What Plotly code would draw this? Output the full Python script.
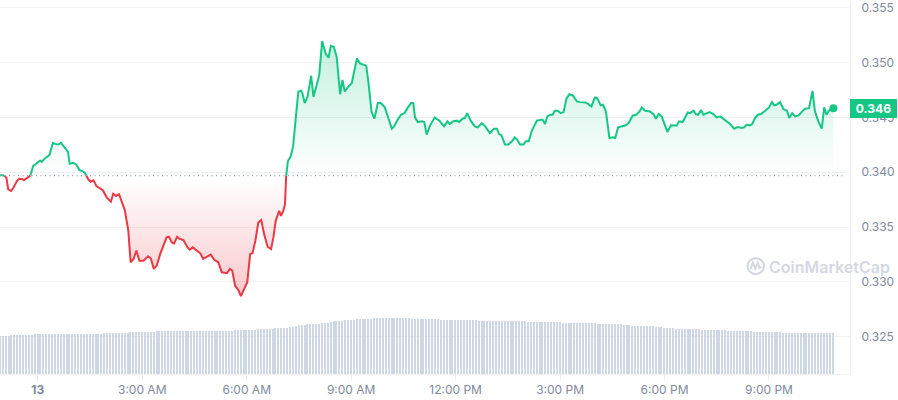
import pandas as pd
import plotly.graph_objects as go

DAY = pd.Timestamp("2023-06-13")

# price path: minutes from midnight of the 13th, price in USD
minutes = [
    -65, -58, -54, -51, -46, -42, -36, -32, -26, -24,
    -19, -13, -8, -3, 4, 7, 12, 20, 26, 30,
    35, 40, 47, 52, 55, 61, 66, 72, 77, 81,
    87, 91, 96, 101, 107, 112, 119, 126, 130, 135,
    140, 150, 156, 160, 165, 170, 175, 182, 190, 195,
    200, 205, 211, 216, 222, 226, 231, 235, 240, 245,
    251, 258, 262, 267, 274, 280, 285, 291, 298, 304,
    311, 317, 326, 331, 335, 340, 346, 350, 356, 361,
    366, 370, 375, 380, 385, 390, 396, 402, 406, 410,
    416, 419, 423, 426, 428, 431, 436, 440, 444, 449,
    454, 456, 460, 465, 471, 475, 481, 485, 490, 496,
    501, 505, 510, 515, 521, 525, 529, 535, 541, 545,
    550, 555, 561, 566, 570, 575, 580, 586, 591, 598,
    604, 610, 614, 620, 626, 632, 637, 643, 647, 650,
    655, 662, 666, 670, 676, 684, 692, 700, 706, 710,
    716, 722, 726, 732, 736, 740, 746, 753, 758, 765,
    771, 779, 786, 791, 795, 799, 805, 811, 817, 822,
    826, 831, 837, 841, 846, 851, 855, 860, 867, 870,
    874, 878, 883, 887, 891, 896, 901, 906, 911, 916,
    922, 929, 934, 943, 949, 954, 960, 964, 970, 974,
    979, 985, 991, 995, 1000, 1006, 1012, 1018, 1025, 1031,
    1037, 1041, 1046, 1055, 1061, 1065, 1070, 1075, 1081, 1085,
    1091, 1097, 1101, 1105, 1111, 1115, 1120, 1124, 1130, 1134,
    1138, 1143, 1147, 1153, 1158, 1164, 1170, 1176, 1181, 1187,
    1193, 1200, 1206, 1213, 1217, 1222, 1227, 1231, 1236, 1241,
    1246, 1250, 1256, 1260, 1265, 1269, 1273, 1279, 1285, 1291,
    1295, 1300, 1305, 1311, 1316, 1322, 1329, 1335, 1339, 1345,
    1351, 1355, 1359, 1363, 1371,
]
prices = [
    0.33972, 0.33972, 0.33950, 0.33845, 0.33829, 0.33859, 0.33920, 0.33941, 0.33936, 0.33927,
    0.33945, 0.33966, 0.34056, 0.34077, 0.34108, 0.34095, 0.34126, 0.34156, 0.34268, 0.34259,
    0.34253, 0.34268, 0.34222, 0.34186, 0.34077, 0.34086, 0.34072, 0.34020, 0.34011, 0.33996,
    0.33936, 0.33914, 0.33927, 0.33875, 0.33854, 0.33836, 0.33769, 0.33732, 0.33805, 0.33784,
    0.33800, 0.33654, 0.33467, 0.33179, 0.33210, 0.33285, 0.33194, 0.33194, 0.33233, 0.33210,
    0.33119, 0.33149, 0.33255, 0.33330, 0.33406, 0.33412, 0.33360, 0.33351, 0.33412, 0.33391,
    0.33382, 0.33315, 0.33294, 0.33315, 0.33285, 0.33261, 0.33210, 0.33231, 0.33249, 0.33201,
    0.33179, 0.33088, 0.33079, 0.33119, 0.33104, 0.32967, 0.32922, 0.32870, 0.32937, 0.32997,
    0.33255, 0.33261, 0.33376, 0.33542, 0.33564, 0.33437, 0.33321, 0.33300, 0.33406, 0.33557,
    0.33648, 0.33603, 0.33648, 0.33709, 0.33966, 0.34102, 0.34147, 0.34238, 0.34465, 0.34737,
    0.34743, 0.34721, 0.34631, 0.34691, 0.34882, 0.34689, 0.34803, 0.34888, 0.35197, 0.35084,
    0.35045, 0.35154, 0.35145, 0.35054, 0.34712, 0.34843, 0.34737, 0.34782, 0.34812, 0.34918,
    0.35039, 0.34994, 0.34985, 0.34973, 0.34812, 0.34555, 0.34489, 0.34631, 0.34631, 0.34592,
    0.34495, 0.34398, 0.34419, 0.34480, 0.34525, 0.34540, 0.34585, 0.34631, 0.34631, 0.34501,
    0.34458, 0.34465, 0.34458, 0.34344, 0.34428, 0.34501, 0.34471, 0.34419, 0.34465, 0.34440,
    0.34465, 0.34471, 0.34458, 0.34489, 0.34495, 0.34540, 0.34471, 0.34419, 0.34410, 0.34449,
    0.34419, 0.34358, 0.34398, 0.34398, 0.34349, 0.34338, 0.34253, 0.34253, 0.34283, 0.34319,
    0.34299, 0.34253, 0.34253, 0.34283, 0.34283, 0.34374, 0.34419, 0.34471, 0.34480, 0.34480,
    0.34440, 0.34510, 0.34525, 0.34525, 0.34562, 0.34562, 0.34540, 0.34549, 0.34671, 0.34712,
    0.34701, 0.34646, 0.34640, 0.34637, 0.34622, 0.34601, 0.34682, 0.34676, 0.34610, 0.34616,
    0.34555, 0.34313, 0.34319, 0.34313, 0.34410, 0.34419, 0.34426, 0.34449, 0.34516, 0.34525,
    0.34555, 0.34592, 0.34562, 0.34555, 0.34531, 0.34489, 0.34531, 0.34510, 0.34435, 0.34368,
    0.34428, 0.34426, 0.34426, 0.34465, 0.34458, 0.34495, 0.34546, 0.34540, 0.34562, 0.34531,
    0.34525, 0.34567, 0.34525, 0.34540, 0.34549, 0.34531, 0.34501, 0.34510, 0.34489, 0.34471,
    0.34440, 0.34398, 0.34413, 0.34404, 0.34410, 0.34435, 0.34428, 0.34440, 0.34495, 0.34525,
    0.34531, 0.34546, 0.34571, 0.34592, 0.34640, 0.34610, 0.34616, 0.34640, 0.34576, 0.34562,
    0.34495, 0.34540, 0.34510, 0.34519, 0.34549, 0.34580, 0.34585, 0.34743, 0.34562, 0.34465,
    0.34398, 0.34592, 0.34525, 0.34562, 0.34585,
]
open_price = 0.3397
last_label = "0.346"

# volume bars (5-minute buckets starting at vol_start_min), in millions
vol_start_min = -65
vol_step_min = 5
volumes = [
    190, 190, 190, 190, 195, 195, 195, 195, 195, 195, 195, 195,
    200, 200, 200, 200, 200, 200, 200, 200, 200, 200, 200, 200,
    200, 200, 200, 200, 200, 200, 200, 200, 200, 200, 200, 200,
    205, 205, 205, 205, 205, 205, 205, 205, 205, 210, 210, 210,
    210, 210, 210, 210, 210, 210, 215, 215, 215, 215, 215, 215,
    215, 215, 215, 215, 215, 215, 215, 215, 215, 215, 215, 215,
    215, 215, 215, 215, 215, 215, 215, 215, 215, 220, 220, 220,
    220, 220, 220, 220, 220, 225, 225, 225, 225, 225, 225, 230,
    230, 230, 230, 230, 235, 235, 240, 245, 245, 245, 250, 250,
    250, 250, 250, 255, 255, 255, 260, 265, 265, 265, 265, 270,
    270, 270, 270, 275, 275, 275, 275, 275, 275, 280, 280, 280,
    280, 280, 280, 280, 280, 280, 280, 280, 280, 280, 275, 275,
    275, 275, 275, 275, 275, 275, 275, 275, 270, 270, 270, 270,
    270, 270, 270, 270, 270, 270, 270, 270, 270, 265, 265, 265,
    265, 265, 265, 265, 265, 265, 265, 265, 265, 265, 265, 265,
    265, 265, 260, 260, 260, 260, 260, 260, 260, 260, 260, 260,
    260, 260, 255, 255, 255, 255, 255, 255, 255, 255, 255, 255,
    255, 255, 250, 250, 250, 250, 250, 250, 250, 250, 250, 245,
    245, 245, 240, 240, 240, 240, 240, 240, 240, 240, 235, 235,
    235, 230, 230, 230, 230, 225, 225, 225, 225, 225, 225, 225,
    225, 225, 220, 220, 220, 220, 220, 220, 220, 220, 220, 215,
    215, 215, 215, 215, 215, 215, 215, 215, 210, 210, 210, 210,
    210, 210, 210, 210, 210, 210, 205, 205, 205, 205, 205, 205,
    205, 205, 205, 205, 205, 205, 205, 205, 205, 205, 205, 205,
]

tick_minutes = [0, 180, 360, 540, 720, 900, 1080, 1260]
tick_text = ["<b>13</b>", "3:00 AM", "6:00 AM", "9:00 AM", "12:00 PM", "3:00 PM", "6:00 PM", "9:00 PM"]
y_ticks = [0.325, 0.330, 0.335, 0.340, 0.345, 0.350, 0.355]

GREEN = "#16c784"
RED = "#ea3943"
GRID = "#eff2f5"
LABEL = "#808a9d"
FONT = "Inter"

assert len(minutes) == len(prices)


def ts(m):
    return DAY + pd.to_timedelta(m, unit="m")


# insert the crossings with the opening price so colours switch exactly there
t_aug, p_aug = [minutes[0]], [prices[0]]
for i in range(1, len(prices)):
    t0, p0, t1, p1 = minutes[i - 1], prices[i - 1], minutes[i], prices[i]
    if (p0 - open_price) * (p1 - open_price) < 0:
        tc = t0 + (open_price - p0) / (p1 - p0) * (t1 - t0)
        t_aug.append(tc)
        p_aug.append(open_price)
    t_aug.append(t1)
    p_aug.append(p1)

x_aug = [ts(m) for m in t_aug]
up_line = [p if p >= open_price else None for p in p_aug]
dn_line = [p if p <= open_price else None for p in p_aug]
up_fill = [max(p, open_price) for p in p_aug]
dn_fill = [min(p, open_price) for p in p_aug]
base = [open_price] * len(p_aug)

vol_x = [ts(vol_start_min + vol_step_min * i) for i in range(len(volumes))]

fig = go.Figure()

fig.add_trace(go.Bar(
    x=vol_x, y=volumes, yaxis="y2",
    marker=dict(color="#cfd6e4", line=dict(width=0)),
    width=vol_step_min * 60 * 1000 * 0.5,
    hoverinfo="skip", showlegend=False,
))

fig.add_trace(go.Scatter(x=x_aug, y=base, mode="lines", line=dict(width=0),
                         hoverinfo="skip", showlegend=False))
fig.add_trace(go.Scatter(
    x=x_aug, y=up_fill, mode="lines", line=dict(width=0), fill="tonexty",
    fillgradient=dict(type="vertical",
                      colorscale=[[0, "rgba(22,199,132,0)"], [1, "rgba(22,199,132,0.26)"]],
                      start=open_price, stop=max(prices)),
    hoverinfo="skip", showlegend=False,
))
fig.add_trace(go.Scatter(x=x_aug, y=base, mode="lines", line=dict(width=0),
                         hoverinfo="skip", showlegend=False))
fig.add_trace(go.Scatter(
    x=x_aug, y=dn_fill, mode="lines", line=dict(width=0), fill="tonexty",
    fillgradient=dict(type="vertical",
                      colorscale=[[0, "rgba(234,57,67,0.28)"], [1, "rgba(234,57,67,0)"]],
                      start=min(prices), stop=open_price),
    hoverinfo="skip", showlegend=False,
))

fig.add_trace(go.Scatter(x=x_aug, y=dn_line, mode="lines",
                         line=dict(color=RED, width=2), connectgaps=False,
                         hoverinfo="skip", showlegend=False))
fig.add_trace(go.Scatter(x=x_aug, y=up_line, mode="lines",
                         line=dict(color=GREEN, width=2), connectgaps=False,
                         hoverinfo="skip", showlegend=False))
fig.add_trace(go.Scatter(x=[ts(minutes[-1])], y=[prices[-1]], mode="markers",
                         marker=dict(color=GREEN, size=8),
                         hoverinfo="skip", showlegend=False))

# plot-area geometry (pixels) used only for the decorative watermark
PW, PH = 850, 374


def px(x):
    return x / PW


def py(y):
    return 1 - y / PH


WM = "#d3d8e2"
shapes = [
    dict(type="line", xref="paper", yref="y", x0=0, x1=px(845), y0=open_price, y1=open_price,
         line=dict(color="#9aa2b1", width=1.3, dash="1px,3.5px")),
    dict(type="circle", xref="paper", yref="paper",
         x0=px(747.5), x1=px(764), y0=py(273.5), y1=py(257.5),
         line=dict(color=WM, width=2.2)),
    dict(type="path", xref="paper", yref="paper",
         path=(f"M {px(750.5)} {py(268.5)} L {px(752.8)} {py(262)} L {px(755.3)} {py(268)} "
               f"L {px(757.8)} {py(262)} L {px(759.5)} {py(267.5)} L {px(761.5)} {py(266)}"),
         line=dict(color=WM, width=2)),
]

annotations = [
    dict(xref="paper", yref="y", x=1, y=prices[-1], xanchor="left", yanchor="middle",
         text=f"<b>{last_label}</b>", showarrow=False, bgcolor=GREEN,
         font=dict(family=FONT, size=12, color="white"),
         width=41, height=13, borderpad=3, borderwidth=0),
    dict(xref="paper", yref="paper", x=px(767), y=py(266), xanchor="left", yanchor="middle",
         text="CoinMarketCap", showarrow=False,
         font=dict(family=FONT, size=16, color=WM, weight=600)),
]

fig.update_layout(
    width=898, height=400,
    margin=dict(l=0, r=48, t=0, b=26),
    paper_bgcolor="white", plot_bgcolor="white",
    bargap=0,
    shapes=shapes, annotations=annotations,
    xaxis=dict(
        type="date",
        range=[ts(-65.1), ts(1399.6)],
        tickvals=[ts(m) for m in tick_minutes], ticktext=tick_text,
        tickfont=dict(family=FONT, size=12, color=LABEL),
        showgrid=False, zeroline=False,
        ticks="outside", ticklen=5, tickcolor="#e8ebf0",
        showline=True, linecolor=GRID, linewidth=1,
    ),
    yaxis=dict(
        side="right",
        range=[0.321597, 0.355535],
        tickvals=y_ticks, tickformat=".3f",
        tickfont=dict(family=FONT, size=12, color=LABEL),
        showgrid=True, gridcolor=GRID, gridwidth=1,
        zeroline=False, showline=True, linecolor=GRID, linewidth=1,
        ticks="", ticklabelstandoff=8, ticklabeloverflow="allow",
    ),
    yaxis2=dict(overlaying="y", range=[0, 1870], visible=False),
    showlegend=False,
)

fig.write_html(
    "out.html",
    config={"displayModeBar": False},
    post_script="document.body.style.margin='0';document.body.style.padding='0';",
)
